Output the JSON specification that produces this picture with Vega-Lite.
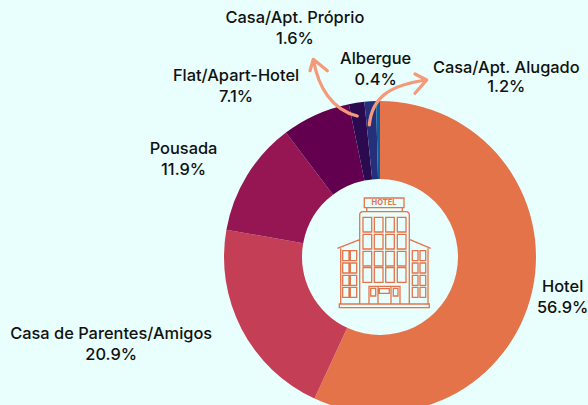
{
"$schema":"https://vega.github.io/schema/vega-lite/v6.json",
"width":316,"height":296,
"autosize":{"type":"none"},
"padding":{"left":222,"top":109,"right":50,"bottom":0},
"background":"#E8FFFD",
"config":{"view":{"stroke":null}},
"datasets":{"stay":[
{"rank":1,"name":"Hotel","share":56.9,"caption":"Hotel\n56.9%"},
{"rank":2,"name":"Casa de Parentes/Amigos","share":20.9,"caption":"Casa de Parentes/Amigos\n20.9%"},
{"rank":3,"name":"Pousada","share":11.9,"caption":"Pousada\n11.9%"},
{"rank":4,"name":"Flat/Apart-Hotel","share":7.1,"caption":"Flat/Apart-Hotel\n7.1%"},
{"rank":5,"name":"Casa/Apt. Próprio","share":1.6,"caption":"Casa/Apt. Próprio\n1.6%"},
{"rank":6,"name":"Casa/Apt. Alugado","share":1.2,"caption":"Casa/Apt. Alugado\n1.2%"},
{"rank":7,"name":"Albergue","share":0.4,"caption":"Albergue\n0.4%"}
]},
"data":{"name":"stay"},
"encoding":{
"theta":{"field":"share","type":"quantitative","stack":true,"scale":{"domain":[0,100]}},
"order":{"field":"rank","type":"quantitative"},
"detail":{"field":"name"}
},
"layer":[
{"mark":{"type":"arc","radius":156,"radius2":78},
 "encoding":{"color":{"field":"name","type":"nominal","legend":null,"sort":null,
 "scale":{"domain":["Hotel","Casa de Parentes/Amigos","Pousada","Flat/Apart-Hotel","Casa/Apt. Próprio","Casa/Apt. Alugado","Albergue"],
 "range":["#E5734A","#C43F55","#951653","#62004F","#2B0A4F","#26307A","#0A5FA0"]}}}},
{"mark":{"type":"text","lineBreak":"\n","font":"Inter","fontSize":16.4,"fontWeight":500,"color":"#111111","lineHeight":21,"baseline":"middle","align":"center","dx":0,"dy":-10},
 "encoding":{"radius":{"value":187},"text":{"condition":{"test":"datum.rank==1","field":"caption"},"value":""}}},
{"mark":{"type":"text","lineBreak":"\n","font":"Inter","fontSize":16.4,"fontWeight":500,"color":"#111111","lineHeight":21,"baseline":"middle","align":"center","dx":-103,"dy":-9},
 "encoding":{"radius":{"value":187},"text":{"condition":{"test":"datum.rank==2","field":"caption"},"value":""}}},
{"mark":{"type":"text","lineBreak":"\n","font":"Inter","fontSize":16.4,"fontWeight":500,"color":"#111111","lineHeight":21,"baseline":"middle","align":"center","dx":-37,"dy":-10},
 "encoding":{"radius":{"value":187},"text":{"condition":{"test":"datum.rank==3","field":"caption"},"value":""}}},
{"mark":{"type":"text","lineBreak":"\n","font":"Inter","fontSize":16.4,"fontWeight":500,"color":"#111111","lineHeight":21,"baseline":"middle","align":"center","dx":-67,"dy":-11},
 "encoding":{"radius":{"value":187},"text":{"condition":{"test":"datum.rank==4","field":"caption"},"value":""}}},
{"mark":{"type":"text","lineBreak":"\n","font":"Inter","fontSize":16.4,"fontWeight":500,"color":"#111111","lineHeight":21,"baseline":"middle","align":"center","dx":-57,"dy":-54},
 "encoding":{"radius":{"value":187},"text":{"condition":{"test":"datum.rank==5","field":"caption"},"value":""}}},
{"mark":{"type":"text","lineBreak":"\n","font":"Inter","fontSize":16.4,"fontWeight":500,"color":"#111111","lineHeight":19,"baseline":"middle","align":"center","dx":138,"dy":-2},
 "encoding":{"radius":{"value":187},"text":{"condition":{"test":"datum.rank==6","field":"caption"},"value":""}}},
{"mark":{"type":"text","lineBreak":"\n","font":"Inter","fontSize":16.4,"fontWeight":500,"color":"#111111","lineHeight":21,"baseline":"middle","align":"center","dx":-2,"dy":-11},
 "encoding":{"radius":{"value":187},"text":{"condition":{"test":"datum.rank==7","field":"caption"},"value":""}}},
{"data":{"values":[{"item":"arrows"}]},
 "encoding":{"theta":null,"order":null,"detail":null},
 "mark":{"type":"point","filled":false,"opacity":1,"size":4,"stroke":"#F4997A","strokeWidth":3.2,"strokeCap":"round","strokeJoin":"round",
 "shape":"M-22.7-141C-48-147-62-170-66.7-197.7M-70-186.3L-66.7-197.7L-52.7-186.3M-10.7-132C-8-160 10-172 46.7-177M35-183L46.7-177L35-163.7"}},
{"data":{"values":[{"item":"building"}]},
 "encoding":{"theta":null,"order":null,"detail":null},
 "mark":{"type":"point","filled":false,"opacity":1,"size":4,"stroke":"#E5734A","strokeWidth":1.3,
 "shape":"M-15.7-59H24V-49.3H-15.7ZM-13.3-49.3V-45.3M22.3-49.3V-45.3M-17-45.3H26Q29.3-45.3 29.3-42V47H-20.3V-42Q-20.3-45.3-17-45.3ZM-42.7-8.7L-20.3-17.3M30-17.3L50.7-8.7M-39.3-8.7V47H-20.3M48-8.7V47H29.3M-40.7 47H49.3V50.7H-40.7ZM-17-39.7H-8.3V-25H-17ZM-5.7-39.7H3V-25H-5.7ZM5.7-39.7H14.3V-25H5.7ZM17.3-39.7H26V-25H17.3ZM-17-22.7H-8.3V-8H-17ZM-5.7-22.7H3V-8H-5.7ZM5.7-22.7H14.3V-8H5.7ZM17.3-22.7H26V-8H17.3ZM-17-5.7H-8.3V9H-17ZM-5.7-5.7H3V9H-5.7ZM5.7-5.7H14.3V9H5.7ZM17.3-5.7H26V9H17.3ZM-17 10.7H-8.3V25.3H-17ZM-5.7 10.7H3V25.3H-5.7ZM5.7 10.7H14.3V25.3H5.7ZM17.3 10.7H26V25.3H17.3ZM-37.3-6.3H-31V3.7H-37.3ZM-29.7-6.3H-23.3V3.7H-29.7ZM-37.3 6H-31V16H-37.3ZM-29.7 6H-23.3V16H-29.7ZM-37.3 18.3H-31V28.3H-37.3ZM-29.7 18.3H-23.3V28.3H-29.7ZM-37.3 30.3H-31V40.3H-37.3ZM-29.7 30.3H-23.3V40.3H-29.7ZM32.3-6.3H38V3.7H32.3ZM40-6.3H45.7V3.7H40ZM32.3 6H38V16H32.3ZM40 6H45.7V16H40ZM32.3 18.3H38V28.3H32.3ZM40 18.3H45.7V28.3H40ZM32.3 30.3H38V40.3H32.3ZM40 30.3H45.7V40.3H40ZM-11 47V29.3H20V47M-9.3 31.3H-4.3V39H-9.3ZM13.3 31.3H18V39H13.3ZM-2 29.3V47M11 29.3V47M-0.7 31.7H9.3V36.3H-0.7Z"}},
{"data":{"values":[{"sign":"HOTEL"}]},
 "encoding":{"theta":null,"order":null,"detail":null,"text":{"field":"sign"}},
 "mark":{"type":"text","font":"Inter","fontSize":7.5,"fontWeight":700,"color":"#E5734A","dx":4,"dy":-54,"align":"center","baseline":"middle"}}
]
}
